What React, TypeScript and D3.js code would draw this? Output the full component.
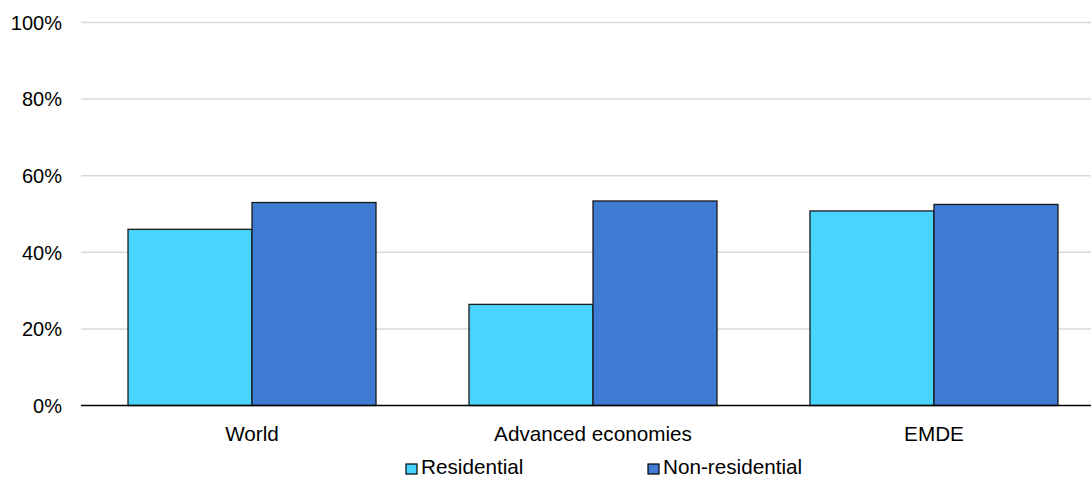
import React from "react";
import * as d3 from "d3";

const categories = ["World", "Advanced economies", "EMDE"];
const seriesNames = ["Residential", "Non-residential"];
const residential = [46, 26.4, 50.8];
const nonResidential = [53.0, 53.4, 52.5];
const yTicks = [0, 20, 40, 60, 80, 100];
const colors = ["#48D4FF", "#3F7BD3"];

export default function App() {
  const W = 1091, H = 479;
  const left = 81.5, right = 1104.5, top = 22.5, bottom = 405.5;
  const y = d3.scaleLinear().domain([0, 100]).range([bottom, top]);
  const x0 = d3.scaleBand<string>().domain(categories).range([left, right]).paddingInner(0.2727).paddingOuter(0.1364);
  const x1 = d3.scaleBand<string>().domain(seriesNames).range([0, x0.bandwidth()]);
  const data = [residential, nonResidential];
  const font = "Liberation Sans, Arial, sans-serif";
  return (
    <svg width={W} height={H} style={{ position: "absolute", left: 0, top: 0 }} fontFamily={font}>
      {yTicks.map(t => (
        <g key={t}>
          {t > 0 && <line x1={81} x2={W} y1={y(t)} y2={y(t)} stroke="#d9d9d9" strokeWidth={1.5} />}
          <text x={62} y={y(t)} dy="0.36em" textAnchor="end" fontSize={20} fill="#000">{t}%</text>
        </g>
      ))}
      {categories.map((c, i) => (
        <g key={c} transform={`translate(${x0(c)},0)`}>
          {seriesNames.map((s, j) => (
            <rect key={s} x={x1(s)} y={y(data[j][i])} width={x1.bandwidth()} height={y(0) - y(data[j][i])}
              fill={colors[j]} stroke="#1a1a1a" strokeWidth={1.3} />
          ))}
          <text x={x0.bandwidth() / 2} y={440.5} textAnchor="middle" fontSize={20.7} fill="#000">{c}</text>
        </g>
      ))}
      <line x1={81} x2={W} y1={y(0)} y2={y(0)} stroke="#000" strokeWidth={1.5} />
      {seriesNames.map((s, j) => {
        const lx = [406, 648][j];
        return (
          <g key={s}>
            <rect x={lx} y={464} width={11} height={10} fill={colors[j]} stroke="#000" strokeWidth={1.2} />
            <text x={lx + 15} y={474.3} fontSize={20.7} fill="#000">{s}</text>
          </g>
        );
      })}
    </svg>
  );
}
